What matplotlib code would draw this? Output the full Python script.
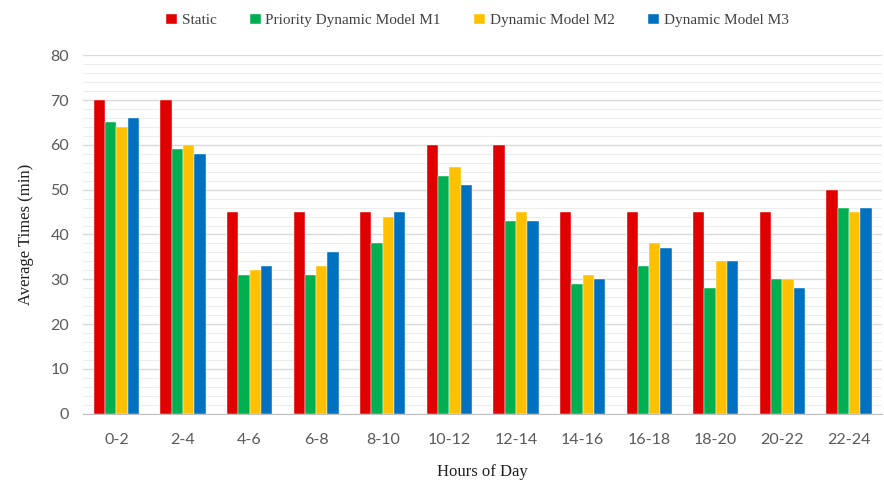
import matplotlib
matplotlib.use("Agg")
import matplotlib.pyplot as plt
import numpy as np
from matplotlib.ticker import MultipleLocator

categories = ["0-2", "2-4", "4-6", "6-8", "8-10", "10-12", "12-14", "14-16", "16-18", "18-20", "20-22", "22-24"]
static = [70, 70, 45, 45, 45, 60, 60, 45, 45, 45, 45, 50]
m1 = [65, 59, 31, 31, 38, 53, 43, 29, 33, 28, 30, 46]
m2 = [64, 60, 32, 33, 44, 55, 45, 31, 38, 34, 30, 45]
m3 = [66, 58, 33, 36, 45, 51, 43, 30, 37, 34, 28, 46]
series_names = ["Static", "Priority Dynamic Model M1", "Dynamic Model M2", "Dynamic Model M3"]
colors = ["#E00000", "#00B050", "#FFC000", "#0070C0"]

plt.rcParams['font.family'] = ['Liberation Serif', 'DejaVu Serif']

fig = plt.figure(figsize=(8.84, 4.84), dpi=100)
ax = fig.add_axes([0.094, 0.145, 0.904, 0.741])

x = np.arange(len(categories))
w = 0.17
for i, (vals, name, c) in enumerate(zip([static, m1, m2, m3], series_names, colors)):
    ax.bar(x + (i - 1.5) * w, vals, width=w, color=c, label=name,
           edgecolor='white', linewidth=0.3, zorder=3)

ax.set_xlim(-0.5, len(categories) - 0.5)
ax.set_ylim(0, 80)
ax.yaxis.set_major_locator(MultipleLocator(10))
ax.yaxis.set_minor_locator(MultipleLocator(2))
ax.grid(axis='y', which='major', color='#D9D9D9', linewidth=1.0, zorder=0)
ax.grid(axis='y', which='minor', color='#EDEDED', linewidth=0.8, zorder=0)
ax.set_xticks(x)
ax.set_xticklabels(categories)
ax.tick_params(axis='both', which='both', length=0, labelsize=11.5, colors='#595959')
for lab in ax.get_xticklabels() + ax.get_yticklabels():
    lab.set_family(['Lato', 'DejaVu Sans'])
ax.tick_params(axis='x', pad=14)
ax.tick_params(axis='y', pad=10)
for s in ['top', 'right', 'left']:
    ax.spines[s].set_visible(False)
ax.spines['bottom'].set_color('#BFBFBF')

ax.set_xlabel("Hours of Day", fontsize=12, color='#202020', labelpad=12)
ax.set_ylabel("Average Times (min)", fontsize=12, color='#202020', labelpad=12)

fig.legend(loc='upper center', bbox_to_anchor=(0.54, 1.0), ncol=4, frameon=False,
           fontsize=11, handlelength=0.7, handleheight=0.7, handletextpad=0.3,
           columnspacing=2.2, labelcolor='#404040')

fig.savefig("out.png", dpi=100)
